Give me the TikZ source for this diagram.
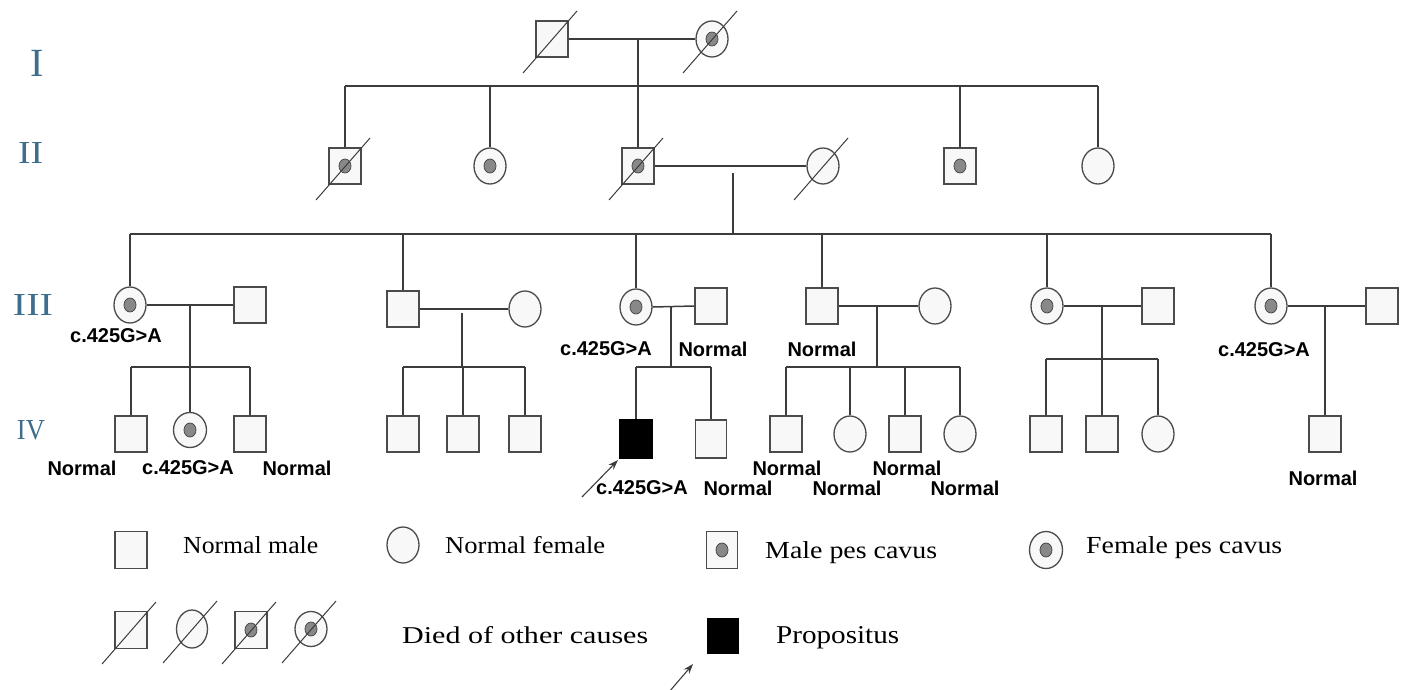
\documentclass[tikz,border=0pt]{standalone}
\usepackage{fontspec}
\usepackage{graphicx}
\setmainfont{Liberation Serif}
\newfontfamily\labfont{Liberation Sans}
\newfontfamily\legfont{Liberation Serif}
\usetikzlibrary{shapes.geometric,calc,arrows.meta}
\definecolor{linec}{RGB}{60,60,60}
\definecolor{shapec}{RGB}{75,75,75}
\definecolor{fillc}{RGB}{248,248,248}
\definecolor{dotc}{RGB}{136,136,136}
\definecolor{genc}{RGB}{62,110,140}
\tikzset{
 ln/.style={draw=linec, line width=1.5pt},
 male/.style={rectangle, draw=shapec, fill=fillc, line width=1.3pt, minimum width=32pt, minimum height=36pt, inner sep=0pt},
 female/.style={ellipse, draw=shapec, fill=fillc, line width=1.3pt, minimum width=32pt, minimum height=36pt, inner sep=0pt},
 aff/.style={path picture={\draw[draw=shapec, fill=dotc, line width=0.8pt] (path picture bounding box.center) ellipse (6pt and 7pt);}},
 proband/.style={male, fill=black, draw=black},
 lab/.style={font=\labfont\bfseries\fontsize{20}{24}\selectfont, inner sep=0pt},
 leg/.style={inner sep=0pt, anchor=base west},
 gen/.style={text=genc, inner sep=0pt},
 deadln/.style={draw=linec, line width=1pt},
 arr/.style={draw=linec, line width=1.1pt, -{Stealth[length=10pt,width=7pt]}},
}
\newcommand\deadmark[1]{\draw[deadln] ($(#1.center)+(-29,34)$) -- ($(#1.center)+(25,-28)$);}
\newcommand\legtxt[2]{\resizebox{#1pt}{17pt}{\legfont #2}}
\begin{document}
\begin{tikzpicture}[x=1pt,y=-1pt]
\useasboundingbox (0,0) rectangle (1405,689);
% generation labels
\node[gen,font=\fontsize{40}{44}\selectfont] (gI) at (37.5,63.5) {I};
\node[gen] (gII) at (30.5,152.5) {\resizebox{25pt}{21pt}{II}};
\node[gen] (gIII) at (33,304.5) {\resizebox{40pt}{21pt}{III}};
\node[gen] (gIV) at (31,430) {\resizebox{28pt}{19pt}{IV}};

% ---------- Generation I
\node[male] (I1) at (552,39) {};
\node[female,aff] (I2) at (712,39) {};
\coordinate (m1) at (638,39);
\coordinate (s2L) at (345,86);
\coordinate (s2R) at (1098,86);

% ---------- Generation II
\node[male,aff] (II1) at (345,166) {};
\node[female,aff] (II2) at (490,166) {};
\node[male,aff] (II3) at (638,166) {};
\node[female] (II4) at (823,166) {};
\node[male,aff] (II5) at (960,166) {};
\node[female] (II6) at (1098,166) {};
\coordinate (m2) at (733,173);
\coordinate (s3L) at (130,234);
\coordinate (s3R) at (1271,234);
\coordinate (s3M) at (733,234);

% ---------- Generation III
\node[female,aff] (A1) at (130,305) {};
\node[male] (A1s) at (250,305) {};
\node[male] (B1) at (403,309) {};
\node[female] (B1s) at (525,309) {};
\node[female,aff] (C1) at (636,307) {};
\node[male] (C1s) at (711,306) {};
\node[male] (D1) at (822,306) {};
\node[female] (D1s) at (935,306) {};
\node[female,aff] (E1) at (1047,306) {};
\node[male] (E1s) at (1158,306) {};
\node[female,aff] (F1) at (1271,306) {};
\node[male] (F1s) at (1382,306) {};

% ---------- Generation IV
\node[male] (A2) at (131,434) {};
\node[female,aff,minimum width=33pt,minimum height=35pt] (A3) at (190,430) {};
\node[male] (A4) at (250,434) {};
\node[male] (B2) at (403,434) {};
\node[male] (B3) at (463,434) {};
\node[male] (B4) at (525,434) {};
\node[proband,minimum height=38pt] (P) at (636,439) {};
\node[male,minimum width=31pt,minimum height=38pt] (C3) at (711,439) {};
\node[male] (D2) at (786,434) {};
\node[female] (D3) at (850,434) {};
\node[male] (D4) at (905,434) {};
\node[female] (D5) at (960,434) {};
\node[male] (E2) at (1046,434) {};
\node[male] (E3) at (1102,434) {};
\node[female] (E4) at (1158,434) {};
\node[male] (F2) at (1325,434) {};

% junctions
\coordinate (mA) at (190,305);
\coordinate (sA) at (190,367);
\coordinate (sAL) at (131,367);
\coordinate (sAR) at (250,367);
\coordinate (mB) at (462,313);
\coordinate (sB) at (462,367);
\coordinate (sBL) at (403,367);
\coordinate (sBR) at (525,367);
\coordinate (mC) at (671,306);
\coordinate (sC) at (671,367);
\coordinate (sCL) at (636,367);
\coordinate (sCR) at (711,367);
\coordinate (mD) at (877,306);
\coordinate (sD) at (877,367);
\coordinate (sDL) at (786,367);
\coordinate (sDR) at (960,367);
\coordinate (mE) at (1102,306);
\coordinate (sE) at (1102,359);
\coordinate (sEL) at (1046,359);
\coordinate (sER) at (1158,359);
\coordinate (mF) at (1325,306);

% lines gen I-II
\draw[ln] (I1.east) -- (I2.west);
\draw[ln] (m1) -- (II3.north);
\draw[ln] (s2L) -- (s2R);
\draw[ln] (s2L) -- (II1.north);
\draw[ln] (II2.north |- s2L) -- (II2.north);
\draw[ln] (II5.north |- s2L) -- (II5.north);
\draw[ln] (s2R) -- (II6.north);
% lines gen II-III
\draw[ln] (II3.east) -- (II4.west);
\draw[ln] (m2) -- (s3M);
\draw[ln] (s3L) -- (s3R);
\foreach \n in {A1,B1,C1,D1,E1,F1} \draw[ln] (\n.north |- s3L) -- (\n.north);
% marriages III
\foreach \a/\b in {A1/A1s,B1/B1s,C1/C1s,D1/D1s,E1/E1s,F1/F1s} \draw[ln] (\a.east) -- (\b.west);
% descents III-IV
\draw[ln] (mA) -- (sA); \draw[ln] (sAL) -- (sAR);
\foreach \n in {A2,A3,A4} \draw[ln] (\n.north |- sA) -- (\n.north);
\draw[ln] (mB) -- (sB); \draw[ln] (sBL) -- (sBR);
\foreach \n in {B2,B3,B4} \draw[ln] (\n.north |- sB) -- (\n.north);
\draw[ln] (mC) -- (sC); \draw[ln] (sCL) -- (sCR);
\foreach \n in {P,C3} \draw[ln] (\n.north |- sC) -- (\n.north);
\draw[ln] (mD) -- (sD); \draw[ln] (sDL) -- (sDR);
\foreach \n in {D2,D3,D4,D5} \draw[ln] (\n.north |- sD) -- (\n.north);
\draw[ln] (mE) -- (sE); \draw[ln] (sEL) -- (sER);
\foreach \n in {E2,E3,E4} \draw[ln] (\n.north |- sE) -- (\n.north);
\draw[ln] (mF) -- (F2.north);

% deceased marks
\deadmark{I1} \deadmark{I2}
\deadmark{II1} \deadmark{II3} \deadmark{II4}

% proband arrow
\coordinate (pa) at (582,497);
\draw[arr, shorten >=2pt] (pa) -- (P.south west);

% labels
\node[lab] (t1) at (116,336) {c.425G>A};
\node[lab] (t2) at (606,349) {c.425G>A};
\node[lab] (t3) at (713,349) {Normal};
\node[lab] (t4) at (822,349) {Normal};
\node[lab] (t5) at (1264,350) {c.425G>A};
\node[lab] (t6) at (82,468) {Normal};
\node[lab] (t7) at (188,468) {c.425G>A};
\node[lab] (t8) at (297,468) {Normal};
\node[lab] (t9) at (787,468) {Normal};
\node[lab] (t10) at (907,468) {Normal};
\node[lab] (t11) at (642,488) {c.425G>A};
\node[lab] (t12) at (738,488) {Normal};
\node[lab] (t13) at (847,488) {Normal};
\node[lab] (t14) at (965,488) {Normal};
\node[lab] (t15) at (1323,478) {Normal};

% ---------- legend
\node[male,minimum height=37pt] (L1) at (131,550) {};
\node[leg] (L1t) at (183,553) {\legtxt{135}{Normal male}};
\node[female] (L2) at (403,545) {};
\node[leg] (L2t) at (445,553) {\legtxt{160}{Normal female}};
\node[male,aff,minimum width=31pt,minimum height=37pt] (L3) at (722,550) {};
\node[leg] (L3t) at (765,558) {\legtxt{172}{Male pes cavus}};
\node[female,aff,minimum width=33pt,minimum height=37pt] (L4) at (1046,550) {};
\node[leg] (L4t) at (1086,553) {\legtxt{196}{Female pes cavus}};
\node[male,minimum height=37pt] (L5) at (131,630) {};
\node[female,minimum width=31pt,minimum height=38pt] (L6) at (192,629) {};
\node[male,aff,minimum height=37pt] (L7) at (251,630) {};
\node[female,aff,minimum height=35pt] (L8) at (311,629) {};
\deadmark{L5} \deadmark{L6} \deadmark{L7} \deadmark{L8}
\node[leg] (L5t) at (402,643) {\legtxt{246}{Died of other causes}};
\node[proband,minimum width=30pt,minimum height=35pt] (L9) at (723,636) {};
\node[leg] (L9t) at (776,643) {\legtxt{123}{Propositus}};
\coordinate (la1) at (669,692);
\coordinate (la2) at (693,664);
\draw[arr] (la1) -- (la2);
\end{tikzpicture}
\end{document}
